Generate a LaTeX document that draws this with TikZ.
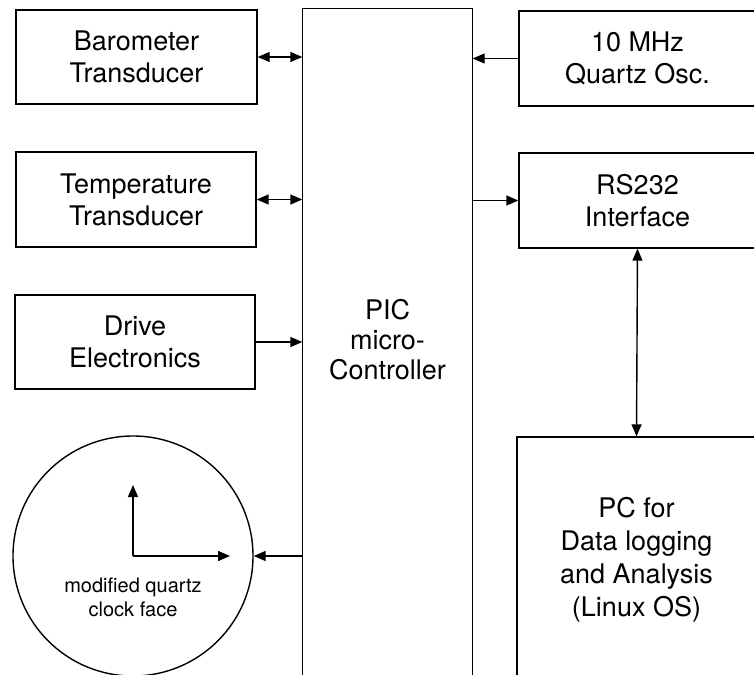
\documentclass[tikz,border=0pt]{standalone}
\usepackage{fontspec}
\setmainfont{TeX Gyre Heros}
\usetikzlibrary{arrows.meta}

\tikzset{
  block/.style={draw,inner sep=0pt,align=center,font=\fontsize{13.5}{16}\selectfont},
}

\begin{document}
\begin{tikzpicture}[x=0.5pt,y=-0.5pt,line width=0.7pt,>={Triangle[length=6pt,width=5pt]}]
  \clip (0,0) rectangle (754,674);
  % sensor and drive blocks on the left
  \node[block,minimum width=120.5pt,minimum height=47pt] (baro) at (136.5,57) {Barometer\\Transducer};
  \node[block,minimum width=120pt,minimum height=47.5pt] (temp) at (136,199.5) {Temperature\\Transducer};
  \node[block,minimum width=120pt,minimum height=47pt] (drive) at (135,342) {Drive\\Electronics};
  % the clock face with its two hands
  \node[draw,circle,minimum size=120pt,inner sep=0pt] (clock) at (133,556) {};
  \coordinate (hub) at (clock.center);
  \coordinate (hand12) at (133,485);
  \coordinate (hand3) at (230,556);
  \draw[->] (hub) -- (hand12);
  \draw[->] (hub) -- (hand3);
  \node[align=center,font=\fontsize{10}{12}\selectfont] (face) at (133,597) {modified quartz\\clock face};
  % the microcontroller, open at the bottom
  \node[align=center,inner sep=0pt,minimum width=84.5pt,minimum height=331pt,
        font=\fontsize{13.5}{15}\selectfont] (pic) at (387.5,340) {PIC\\micro-\\Controller};
  \draw ([yshift=-10pt]pic.south west) |- (pic.north east) -- ([yshift=-10pt]pic.south east);
  % blocks on the right
  \node[block,minimum width=118.5pt,minimum height=47.5pt] (osc) at (637.5,58.5) {10 MHz\\Quartz Osc.};
  \node[block,minimum width=118.5pt,minimum height=47.5pt] (rs) at (637.5,200.5) {RS232\\Interface};
  \node[block,minimum width=119.5pt,minimum height=123pt,font=\fontsize{13.5}{16.5}\selectfont] (pc) at (636.5,560) {PC for\\Data logging\\and Analysis\\(Linux OS)};
  % connections
  \draw[<->] (baro.east) -- (baro.east -| pic.west);
  \draw[<->] (temp.east) -- (temp.east -| pic.west);
  \draw[->] (drive.east) -- (drive.east -| pic.west);
  \draw[->] (clock.east -| pic.west) -- (clock.east);
  \draw[->] (osc.west) -- (osc.west -| pic.east);
  \draw[->] (rs.west -| pic.east) -- (rs.west);
  \draw[<->] (rs.south) -- (pc.north);
\end{tikzpicture}
\end{document}
